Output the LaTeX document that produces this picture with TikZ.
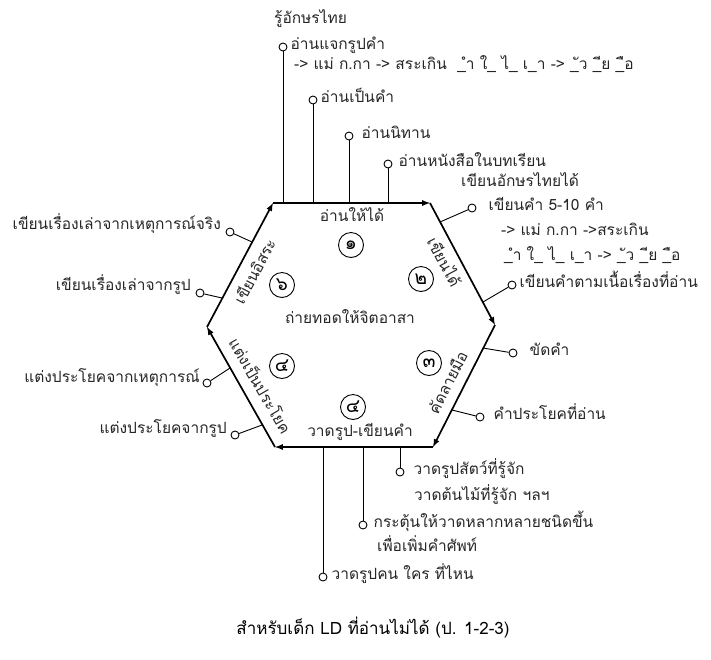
\documentclass[tikz,border=0pt]{standalone}
\usepackage{fontspec}
\newfontfamily\thaifont[Script=Thai]{Loma}
\usetikzlibrary{positioning}
\newcommand\txtsize{15.5}
\newcommand\ringsize{8pt}
\newcommand\numsize{25pt}
\tikzset{
    lbl/.style = {font=\thaifont\fontsize{\txtsize}{18}\selectfont, text=black!85,
                  inner sep=0pt, text height=0.72em, text depth=0.24em},
    endring/.style = {circle, draw, line width=0.9pt, inner sep=0pt, minimum size=\ringsize},
    numring/.style = {circle, draw, line width=0.9pt, inner sep=0pt, minimum size=\numsize,
                      font=\thaifont\fontsize{19}{20}\selectfont},
    leader/.style = {line width=0.9pt},
    hexside/.style = {->, >=latex, line width=1.7pt},
}

\begin{document}
\begin{tikzpicture}[x=1pt, y=-1pt]
    \useasboundingbox (0,0) rectangle (711,659);
    % --- Hexagon corners
    \coordinate (tl) at (273,203);
    \coordinate (tr) at (430,203);
    \coordinate (r)  at (495,325);
    \coordinate (br) at (433,447);
    \coordinate (bl) at (275,447);
    \coordinate (l)  at (207,327);
    % --- Hexagon sides
    \draw[hexside] (tl) -- (tr);
    \draw[hexside] (tr) -- (r);
    \draw[hexside] (r) -- (br);
    \draw[hexside] (br) -- (bl);
    \draw[hexside] (bl) -- (l);
    \draw[hexside] (l) -- (tl);
    % --- Side names
    \node[lbl] (s1) at (352,219) {อ่านให้ได้};
    \node[lbl, rotate=-62] (s2) at (441,264) {เขียนได้};
    \node[lbl, rotate=63] (s3) at (451,384) {คัดลายมือ};
    \node[lbl] (s4) at (360,434) {วาดรูป-เขียนคำ};
    \node[lbl, rotate=-60] (s5) at (257,388) {แต่งเป็นประโยค};
    \node[lbl, rotate=62] (s6) at (258,273) {เขียนอิสระ};
    % --- Step numbers
    \node[numring] (n1) at (351,245) {๑};
    \node[numring] (n2) at (421,279) {๒};
    \node[numring] (n3) at (429,363) {๓};
    \node[numring] (n4) at (353,407) {๔};
    \node[numring] (n5) at (282,366) {๔};
    \node[numring] (n6) at (282,285) {๖};
    \node[lbl] (mid) at (350,321) {ถ่ายทอดให้จิตอาสา};
    % --- Reading (top)
    \coordinate (t1) at (283,203);
    \coordinate (t2) at (313,203);
    \coordinate (t3) at (349,203);
    \coordinate (t4) at (388,203);
    \node[endring] (p1) at (283,47) {};
    \node[endring] (p2) at (313,100) {};
    \node[endring] (p3) at (349,136) {};
    \node[endring] (p4) at (388,164) {};
    \draw[leader] (t1) -- (p1);
    \draw[leader] (t2) -- (p2);
    \draw[leader] (t3) -- (p3);
    \draw[leader] (t4) -- (p4);
    \node[lbl, anchor=west] (a0) at (274,21) {รู้อักษรไทย};
    \node[lbl, right=3pt of p1] (a1) {อ่านแจกรูปคำ};
    \node[lbl, anchor=west] (a1b) at (294,67) {-> แม่ ก.กา -> สระเกิน \ \_ำ ใ\_ ไ\_ เ\_า -> \_ัว \_ีย \_ือ};
    \node[lbl, right=3pt of p2] (a2) {อ่านเป็นคำ};
    \node[lbl, right=8pt of p3] (a3) {อ่านนิทาน};
    \node[lbl, right=6pt of p4] (a4) {อ่านหนังสือในบทเรียน};
    % --- Writing (upper right)
    \coordinate (u1) at (440,222);
    \coordinate (u2) at (483,302);
    \node[endring] (p5) at (472,208) {};
    \node[endring] (p6) at (512,285) {};
    \draw[leader] (u1) -- (p5);
    \draw[leader] (u2) -- (p6);
    \node[lbl, anchor=west] (a5a) at (461,184) {เขียนอักษรไทยได้};
    \node[lbl, right=12pt of p5] (a5) {เขียนคำ 5-10 คำ};
    \node[lbl, anchor=west] (a5b) at (501,233) {-> แม่ ก.กา ->สระเกิน};
    \node[lbl, anchor=west] (a5c) at (504,258) {\_ำ ใ\_ ไ\_ เ\_า -> \_ัว \_ีย \_ือ};
    \node[lbl, right=3pt of p6] (a6) {เขียนคำตามเนื้อเรื่องที่อ่าน};
    % --- Handwriting (lower right)
    \coordinate (v1) at (483,348);
    \coordinate (v2) at (452,410);
    \node[endring] (p7) at (513,353) {};
    \node[endring] (p8) at (480,417) {};
    \draw[leader] (v1) -- (p7);
    \draw[leader] (v2) -- (p8);
    \node[lbl, right=12pt of p7] (a7) {ขัดคำ};
    \node[lbl, right=9pt of p8] (a8) {คำประโยคที่อ่าน};
    % --- Drawing (bottom)
    \coordinate (b1) at (400,447);
    \coordinate (b2) at (363,447);
    \coordinate (b3) at (323,447);
    \node[endring] (p9) at (400,472) {};
    \node[endring] (p10) at (363,525) {};
    \node[endring] (p11) at (323,577) {};
    \draw[leader] (b1) -- (p9);
    \draw[leader] (b2) -- (p10);
    \draw[leader] (b3) -- (p11);
    \node[lbl, right=9pt of p9] (a9) {วาดรูปสัตว์ที่รู้จัก};
    \node[lbl, anchor=west] (a9b) at (414,498) {วาดต้นไม้ที่รู้จัก ฯลฯ};
    \node[lbl, right=6pt of p10] (a10) {กระตุ้นให้วาดหลากหลายชนิดขึ้น};
    \node[lbl, anchor=west] (a10b) at (377,549) {เพื่อเพิ่มคำศัพท์};
    \node[lbl, right=4pt of p11] (a11) {วาดรูปคน ใคร ที่ไหน};
    % --- Sentences (lower left)
    \coordinate (z1) at (230,368);
    \coordinate (z2) at (262,425);
    \node[endring] (p14) at (207,383) {};
    \node[endring] (p15) at (235,435) {};
    \draw[leader] (z1) -- (p14);
    \draw[leader] (z2) -- (p15);
    \node[lbl, anchor=east] (a14) at (200,380) {แต่งประโยคจากเหตุการณ์};
    \node[lbl, anchor=east] (a15) at (227,431) {แต่งประโยคจากรูป};
    % --- Free writing (upper left)
    \coordinate (w1) at (252,242);
    \coordinate (w2) at (222,298);
    \node[endring] (p12) at (230,232) {};
    \node[endring] (p13) at (200,293) {};
    \draw[leader] (w1) -- (p12);
    \draw[leader] (w2) -- (p13);
    \node[lbl, anchor=east] (a12) at (221,227) {เขียนเรื่องเล่าจากเหตุการณ์จริง};
    \node[lbl, anchor=east] (a13) at (191,288) {เขียนเรื่องเล่าจากรูป};
    % --- Title
    \node[lbl, text=black, font=\thaifont\fontsize{17}{20}\selectfont] (title) at (373,632) {สำหรับเด็ก LD ที่อ่านไม่ได้ (ป. 1-2-3)};
\end{tikzpicture}
\end{document}
